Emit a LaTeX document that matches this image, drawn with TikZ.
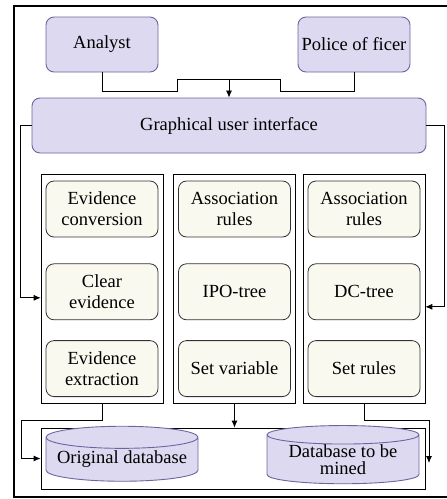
\documentclass[tikz,border=0pt]{standalone}
\usepackage{fontspec}
\setmainfont{Liberation Serif}
\usepackage{tikz}
\usetikzlibrary{positioning,arrows,arrows.meta,fit,shapes}
\definecolor{lav}{HTML}{DCD9F0}
\definecolor{lavline}{HTML}{6E65A0}
\definecolor{cream}{HTML}{FAF9EF}
\begin{document}
\begin{tikzpicture}[x=1pt,y=-1pt]
\tikzstyle{usr}=[draw=lavline, fill=lav, rounded corners=8pt, line width=0.9pt, minimum width=112pt, minimum height=55pt, font=\fontsize{18.5}{21}\selectfont]
\tikzstyle{proc}=[draw=black!80, fill=cream, rounded corners=8pt, line width=0.8pt, minimum width=112pt, minimum height=56pt, inner xsep=2pt, align=center, font=\fontsize{18.5}{21}\selectfont]
\tikzstyle{col}=[draw, line width=0.8pt, inner xsep=4.5pt, inner ysep=6pt]
\tikzstyle{db}=[draw=lavline, fill=lav, cylinder, shape border rotate=90, aspect=0.17, line width=0.9pt, minimum width=152pt, minimum height=55pt, inner sep=0pt, align=center, font=\fontsize{18.5}{17}\selectfont]
\tikzstyle{ln}=[line width=0.8pt, -{Latex[length=7pt,width=6pt]}]

\useasboundingbox (0,0) rectangle (447,499);
\draw[line width=1.1pt] (14,6) rectangle (450,497);

\node[usr] (an) at (102,44.5) {Analyst};
\node[usr] (po) at (354,44.5) {Police of ficer};
\node[usr, minimum width=394pt] (gui) at (229,125.5) {Graphical user interface};
\coordinate (join) at (229,79);

\node[proc] (a1) at (102,209) {Evidence\\conversion};
\node[proc, below=26pt of a1] (a2) {Clear\\evidence};
\node[proc, below=20pt of a2] (a3) {Evidence\\extraction};
\node[proc] (b1) at (234.5,209) {Association\\rules};
\node[proc, below=26pt of b1] (b2) {IPO-tree};
\node[proc, below=20pt of b2] (b3) {Set variable};
\node[proc] (c1) at (364,209) {Association\\rules};
\node[proc, below=26pt of c1] (c2) {DC-tree};
\node[proc, below=20pt of c2] (c3) {Set rules};
\node[col, fit=(a1)(a3)] (lc) {};
\node[col, fit=(b1)(b3)] (mc) {};
\node[col, fit=(c1)(c3)] (rc) {};

\node[draw, line width=0.8pt, minimum width=384pt, minimum height=61pt] (dbox) at (233,458.5) {};
\node[db] (orig) at (122,459.5) {Original database};
\node[db] (mined) at (343,459.5) {Database to be\\mined};
\coordinate (dend) at (429,463);

\draw[line width=0.8pt] (an.south) -- ++(0,19) -- ++(75,0) -- ++(0,-12) -- ++(103,0) -- ++(0,12) -- ++(74,0) -- (po.south);
\draw[ln] (join) -- (gui.north);
\draw[ln] (gui.west) -- ++(-11,0) |- ([yshift=-9pt]lc.west);
\draw[ln] (gui.east) -- ++(18,0) |- ([yshift=-18pt]rc.east);
\draw[ln] (lc.south) -- ++(0,17) -| ([xshift=-19pt]dbox.west) -- (dbox.west);
\draw[ln] (mc.south) -- (mc.south |- dbox.north);
\draw[ln] (rc.south) -- ++(0,17) -| (dend);
\end{tikzpicture}
\end{document}
